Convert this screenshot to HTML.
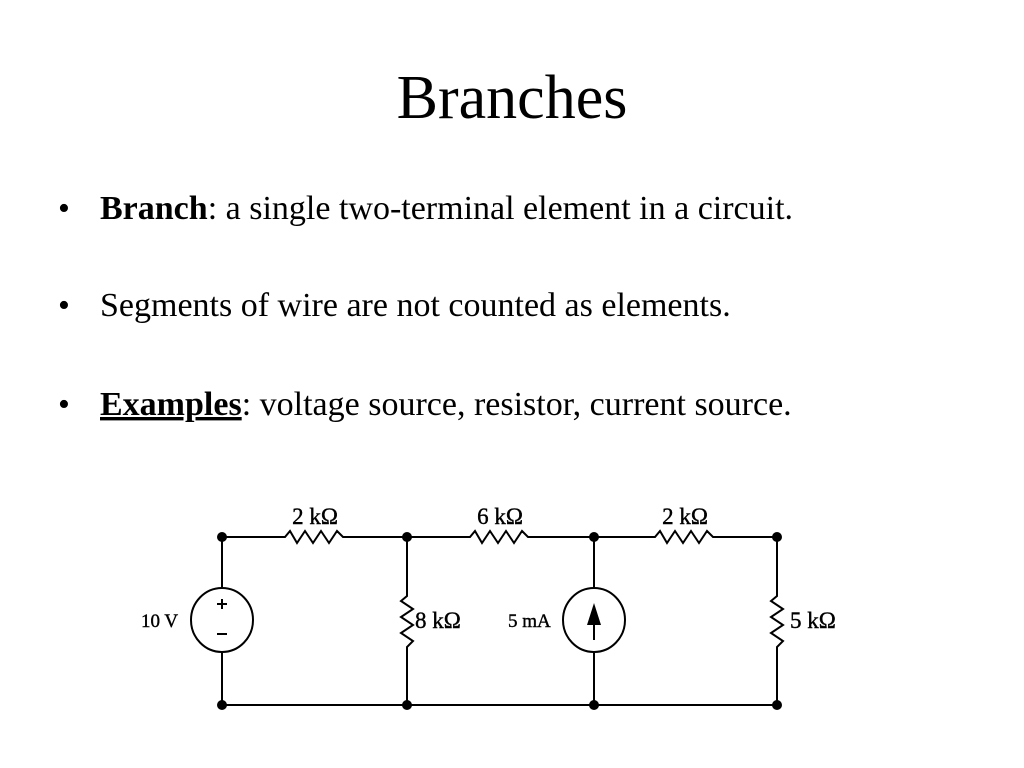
<!DOCTYPE html>
<html><head><style>
body{margin:0;background:#fff;}
svg{display:block}
text{font-family:"Liberation Serif",serif;fill:#000}
</style></head><body>
<svg width="1024" height="768" viewBox="0 0 1024 768" xmlns="http://www.w3.org/2000/svg">
<text x="512" y="118" font-size="62" text-anchor="middle">Branches</text>
<g font-size="34">
<text x="58" y="219">•</text>
<text x="100" y="219"><tspan font-weight="bold">Branch</tspan>: a single two-terminal element in a circuit.</text>
<text x="58" y="316">•</text>
<text x="100" y="316">Segments of wire are not counted as elements.</text>
<text x="58" y="415">•</text>
<text x="100" y="415"><tspan font-weight="bold" text-decoration="underline">Examples</tspan>: voltage source, resistor, current source.</text>
</g>
<g stroke="#000" stroke-width="2" fill="none">
<polyline points="222,537 285,537 290,531 297,543 305,531 313,543 321,531 329,543 337,531 343,537 407,537 470,537 475,531 482,543 490,531 498,543 506,531 514,543 522,531 528,537 594,537 655,537 660,531 667,543 675,531 683,543 691,531 699,543 707,531 713,537 777,537"/>
<line x1="222" y1="705" x2="777" y2="705"/>
<line x1="222" y1="537" x2="222" y2="588"/>
<line x1="222" y1="652" x2="222" y2="705"/>
<ellipse cx="222" cy="620" rx="31" ry="32"/>
<polyline points="407,537 407,596 401,601 413,609 401,617 413,625 401,633 413,641 407,647 407,705"/>
<polyline points="777,537 777,596 771,601 783,609 771,617 783,625 771,633 783,641 777,647 777,705"/>
<line x1="594" y1="537" x2="594" y2="588"/>
<line x1="594" y1="652" x2="594" y2="705"/>
<ellipse cx="594" cy="620" rx="31" ry="32"/>
<line x1="594" y1="640" x2="594" y2="615"/>
<line x1="217" y1="604" x2="227" y2="604"/>
<line x1="222" y1="599" x2="222" y2="609"/>
<line x1="217" y1="634" x2="227" y2="634"/>
</g>
<polygon points="594,603 587,625 601,625" fill="#000"/>
<g fill="#000">
<circle cx="222" cy="537" r="5"/><circle cx="407" cy="537" r="5"/><circle cx="594" cy="537" r="5"/><circle cx="777" cy="537" r="5"/>
<circle cx="222" cy="705" r="5"/><circle cx="407" cy="705" r="5"/><circle cx="594" cy="705" r="5"/><circle cx="777" cy="705" r="5"/>
</g>
<g font-size="23" stroke="#000" stroke-width="0.4">
<text x="315" y="524" text-anchor="middle">2 kΩ</text>
<text x="500" y="524" text-anchor="middle">6 kΩ</text>
<text x="685" y="524" text-anchor="middle">2 kΩ</text>
<text x="141" y="627" font-size="19">10 V</text>
<text x="415" y="628">8 kΩ</text>
<text x="508" y="627" font-size="19">5 mA</text>
<text x="790" y="628">5 kΩ</text>
</g>
</svg>
</body></html>
